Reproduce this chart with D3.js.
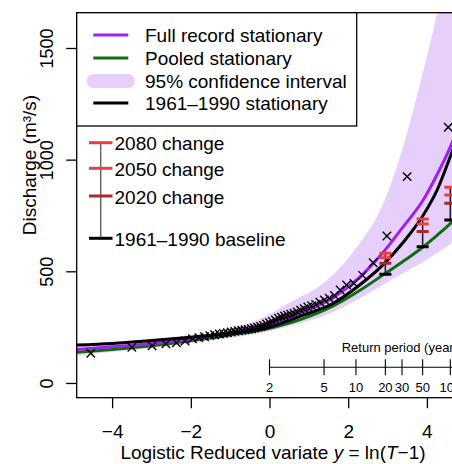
<!DOCTYPE html>
<html>
<head>
<meta charset="utf-8">
<script src="https://cdn.jsdelivr.net/npm/d3@7"></script>
<style>
  body { margin: 0; background: #fff; }
  svg { display: block; font-family: "Liberation Sans", Arial, sans-serif; }
</style>
</head>
<body>
<div id="chart"></div>
<script>
// annual maximum discharge (m3/s), sorted ascending, 53 years
const annualMax = [
  133, 160, 166, 175, 180, 188, 198, 203, 207, 212,
  216, 219, 222, 225, 228, 231, 234, 236, 238, 240,
  243, 246, 250, 253, 258, 264, 270, 275, 282, 290,
  295, 300, 304, 308, 312, 318, 326, 333, 340, 346,
  352, 362, 372, 380, 392, 416, 439, 446, 482, 538,
  658, 924, 1145
];

const curveX = [-4.9, -4, -3, -2, -1, 0, 0.8, 1.62, 2.3, 2.89, 3.4, 3.91, 4.25, 4.64, 5.1];
const fullRecord = [150, 162, 177, 198, 225, 262, 315, 382, 475, 585, 700, 820, 930, 1075, 1300];
const pooled = [137, 150, 167, 190, 215, 245, 285, 345, 415, 484, 545, 610, 660, 722, 820];
const baseline6190 = [170, 177, 190, 205, 222, 250, 300, 357, 440, 530, 630, 752, 860, 1035, 1250];

const ciX = [-4.9, -4, -3, -2, -1, -0.08, 0.52, 1.36, 2.17, 2.93, 3.37, 3.72, 4.26, 5.1];
const ciUpper = [172, 180, 194, 213, 242, 300, 360, 445, 596, 820, 1043, 1267, 1657, 2400];
const ciLowX = [-4.9, -4, -3, -2, -1, 0, 0.8, 1.62, 2.3, 2.89, 3.4, 3.91, 4.63, 5.1];
const ciLower = [122, 140, 157, 178, 202, 232, 268, 318, 380, 440, 492, 543, 627, 690];

// climate change allowances at selected return periods
const barPeriods = [20, 50, 100];
const barBaseline = [487, 610, 730];
const change2020 = [536, 678, 805];
const change2050 = [561, 712, 842];
const change2080 = [581, 734, 876];

const returnPeriods = [2, 5, 10, 20, 30, 50, 100, 200];
const xTicks = [-4, -2, 0, 2, 4];
const yTicks = [0, 500, 1000, 1500];

const colors = {
  full: '#a020f0',
  pooled: '#0f6e0f',
  ci: '#e6cffb',
  base: '#000',
  c2080: '#f23c3c',
  c2050: '#e04444',
  c2020: '#a82a2a'
};

const width = 452, height = 464;
const plot = {left: 76.7, right: 469, top: 12.7, bottom: 397.7};

const svg = d3.select('#chart').append('svg')
  .attr('width', width)
  .attr('height', height);

const x = d3.scaleLinear().domain([-4.9, 5.07]).range([plot.left, plot.right]);
const y = d3.scaleLinear().domain([-66, 1658]).range([plot.bottom, plot.top]);

svg.append('defs').append('clipPath')
  .attr('id', 'plot-clip')
  .append('rect')
  .attr('x', plot.left).attr('y', plot.top)
  .attr('width', plot.right - plot.left).attr('height', plot.bottom - plot.top);

const g = svg.append('g').attr('clip-path', 'url(#plot-clip)');

// confidence band
const bandLine = d3.line().x(d => x(d[0])).y(d => y(d[1])).curve(d3.curveMonotoneX);
const upperPath = bandLine(ciX.map((v, i) => [v, ciUpper[i]]));
const lowerPath = bandLine(ciLowX.map((v, i) => [v, ciLower[i]]).reverse());
g.append('path')
  .attr('d', upperPath + 'L' + lowerPath.slice(1) + 'Z')
  .attr('fill', colors.ci);

// return period axis inside the plot
const rpY = 367.3;
const rp = g.append('g');
rp.append('line')
  .attr('x1', x(Math.log(returnPeriods[0] - 1))).attr('x2', plot.right)
  .attr('y1', rpY).attr('y2', rpY)
  .attr('stroke', '#000').attr('stroke-width', 1.1);
rp.selectAll('.rp-tick')
  .data(returnPeriods)
  .enter().append('line')
  .attr('x1', d => x(Math.log(d - 1))).attr('x2', d => x(Math.log(d - 1)))
  .attr('y1', rpY - 8).attr('y2', rpY + 8)
  .attr('stroke', '#000').attr('stroke-width', 1.1);
rp.selectAll('.rp-label')
  .data(returnPeriods)
  .enter().append('text')
  .attr('x', d => x(Math.log(d - 1)))
  .attr('y', 391.5)
  .attr('text-anchor', 'middle')
  .attr('font-size', 13)
  .text(d => d);
rp.append('text')
  .attr('x', 341.7).attr('y', 352)
  .attr('font-size', 13)
  .text('Return period (years)');

// fitted curves
const curve = d3.line().x(d => x(d[0])).y(d => y(d[1])).curve(d3.curveMonotoneX);
[[pooled, colors.pooled], [fullRecord, colors.full], [baseline6190, colors.base]].forEach(([vals, col]) => {
  g.append('path')
    .attr('d', curve(curveX.map((v, i) => [v, vals[i]])))
    .attr('fill', 'none')
    .attr('stroke', col)
    .attr('stroke-width', 3);
});

// observed annual maxima, Gringorten plotting positions on logistic reduced variate
const n = annualMax.length;
const pts = annualMax.map((q, i) => {
  const F = (i + 1 - 0.44) / (n + 0.12);
  return [Math.log(F / (1 - F)), q];
});
const s = 4.2;
g.selectAll('.obs')
  .data(pts)
  .enter().append('path')
  .attr('d', d => `M${x(d[0]) - s},${y(d[1]) - s}L${x(d[0]) + s},${y(d[1]) + s}M${x(d[0]) - s},${y(d[1]) + s}L${x(d[0]) + s},${y(d[1]) - s}`)
  .attr('stroke', '#000')
  .attr('stroke-width', 1.4)
  .attr('fill', 'none');

// change bars
const bars = g.selectAll('.bar')
  .data(barPeriods.map((T, i) => ({T, i})))
  .enter().append('g')
  .attr('transform', d => `translate(${x(Math.log(d.T - 1))},0)`);
bars.append('line')
  .attr('y1', d => y(barBaseline[d.i])).attr('y2', d => y(change2080[d.i]))
  .attr('stroke', '#222').attr('stroke-width', 1.6);
const hw = 6;
[[change2020, colors.c2020], [change2050, colors.c2050], [change2080, colors.c2080], [barBaseline, colors.base]].forEach(([vals, col]) => {
  bars.append('line')
    .attr('x1', -hw).attr('x2', hw)
    .attr('y1', d => y(vals[d.i])).attr('y2', d => y(vals[d.i]))
    .attr('stroke', col).attr('stroke-width', 3);
});

// axes
const xAxis = svg.append('g')
  .attr('transform', `translate(0,${plot.bottom})`)
  .call(d3.axisBottom(x).tickValues(xTicks).tickSize(10.5).tickFormat(d3.format('d')));
xAxis.select('.domain').remove();
xAxis.selectAll('.tick line').attr('stroke-width', 1.3);
xAxis.selectAll('.tick text')
  .attr('font-size', 19).attr('font-family', null)
  .attr('y', 0).attr('dy', null)
  .attr('transform', 'translate(0,40.5)')
  .text(d => d < 0 ? '\u2212' + Math.abs(d) : d);

const yAxis = svg.append('g')
  .attr('transform', `translate(${plot.left},0)`)
  .call(d3.axisLeft(y).tickValues(yTicks).tickSize(10.5).tickFormat(d3.format('d')));
yAxis.select('.domain').remove();
yAxis.selectAll('.tick line').attr('stroke-width', 1.3);
yAxis.selectAll('.tick text')
  .attr('font-size', 18).attr('font-family', null)
  .attr('x', null).attr('dy', null)
  .attr('text-anchor', 'middle')
  .attr('transform', `translate(${53.3 - plot.left},0) rotate(-90)`);

// plot frame
svg.append('rect')
  .attr('x', plot.left).attr('y', plot.top)
  .attr('width', plot.right - plot.left).attr('height', plot.bottom - plot.top)
  .attr('fill', 'none').attr('stroke', '#000').attr('stroke-width', 1.3);

// axis titles
const xl = svg.append('text')
  .attr('x', 273).attr('y', 459.3)
  .attr('text-anchor', 'middle')
  .attr('font-size', 19);
xl.append('tspan').text('Logistic Reduced variate ');
xl.append('tspan').attr('font-style', 'italic').text('y');
xl.append('tspan').text(' = ln(');
xl.append('tspan').attr('font-style', 'italic').text('T');
xl.append('tspan').text('\u22121)');

svg.append('text')
  .attr('transform', 'translate(35.5,165) rotate(-90)')
  .attr('text-anchor', 'middle')
  .attr('font-size', 19)
  .text('Discharge (m\u00B3/s)');

// legend 1
const leg = svg.append('g');
leg.append('rect')
  .attr('x', plot.left).attr('y', plot.top)
  .attr('width', 356.7 - plot.left).attr('height', 126 - plot.top)
  .attr('fill', '#fff').attr('stroke', '#000').attr('stroke-width', 1.3);
const legItems = [
  {label: 'Full record stationary', color: colors.full, type: 'line'},
  {label: 'Pooled stationary', color: colors.pooled, type: 'line'},
  {label: '95% confidence interval', color: colors.ci, type: 'band'},
  {label: '1961\u20131990 stationary', color: colors.base, type: 'line'}
];
const legRows = [35, 58, 81, 103];
legItems.forEach((it, i) => {
  const ly = legRows[i];
  if (it.type === 'band') {
    leg.append('rect')
      .attr('x', 86.7).attr('y', ly - 7).attr('width', 48.3).attr('height', 14)
      .attr('rx', 7).attr('fill', it.color);
  } else {
    leg.append('line')
      .attr('x1', 93.3).attr('x2', 128.3).attr('y1', ly).attr('y2', ly)
      .attr('stroke', it.color).attr('stroke-width', 3);
  }
  leg.append('text')
    .attr('x', 145).attr('y', ly).attr('dy', '0.35em')
    .attr('font-size', 19)
    .text(it.label);
});

// legend 2
const leg2 = svg.append('g');
const leg2Items = [
  {label: '2080 change', color: colors.c2080, y: 142.7},
  {label: '2050 change', color: colors.c2050, y: 168.3},
  {label: '2020 change', color: colors.c2020, y: 196},
  {label: '1961\u20131990 baseline', color: colors.base, y: 238.3}
];
leg2.append('line')
  .attr('x1', 100.7).attr('x2', 100.7).attr('y1', 142.7).attr('y2', 238.3)
  .attr('stroke', '#666').attr('stroke-width', 1.5);
leg2Items.forEach(it => {
  leg2.append('line')
    .attr('x1', 89).attr('x2', 112.5).attr('y1', it.y).attr('y2', it.y)
    .attr('stroke', it.color).attr('stroke-width', 3);
  leg2.append('text')
    .attr('x', 114.5).attr('y', it.y + 1).attr('dy', '0.35em')
    .attr('font-size', 19)
    .text(it.label);
});
</script>
</body>
</html>
